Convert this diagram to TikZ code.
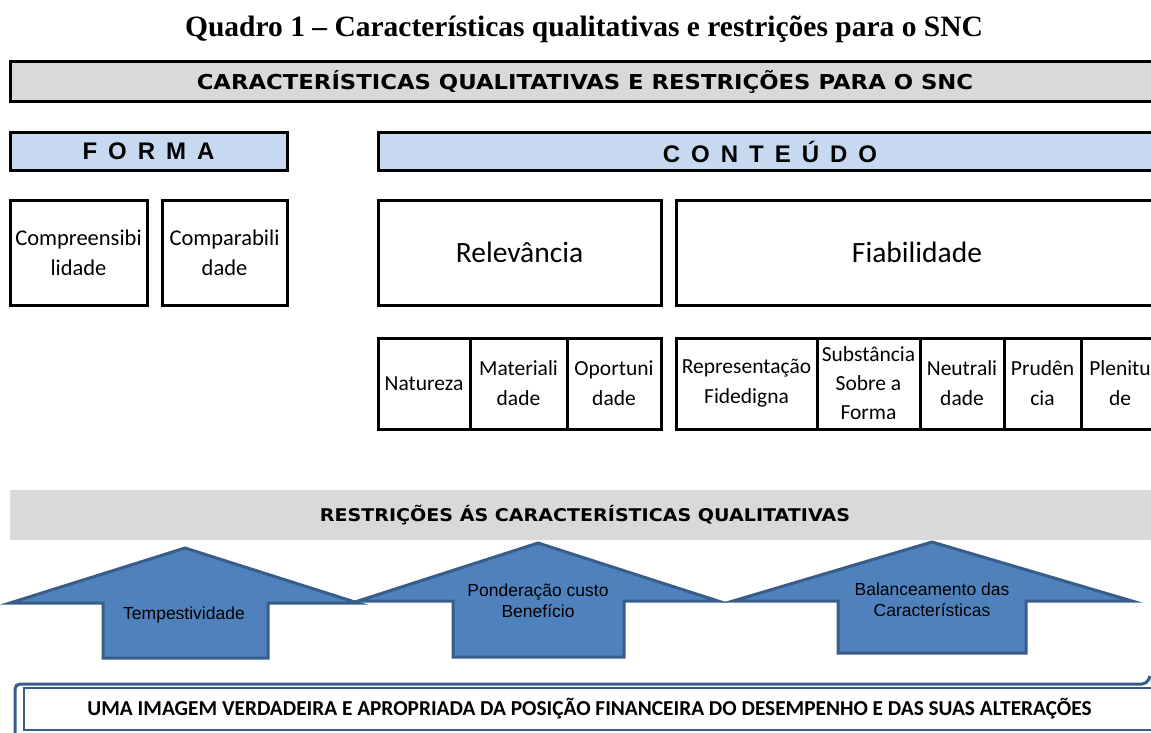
\documentclass[tikz,border=0pt]{standalone}
\usepackage{fontspec}
\setmainfont{Liberation Serif}
\newfontfamily\calibri{Carlito}
\newfontfamily\arial{Liberation Sans}
\newfontfamily\arialheavy{DejaVu Sans}
\newcommand\espacado{\spaceskip 11pt\relax}
\usepackage{tikz}
\usetikzlibrary{positioning}
\definecolor{cinzento}{RGB}{217,217,217}
\definecolor{azulclaro}{RGB}{198,217,241}
\definecolor{azulseta}{RGB}{79,129,189}
\definecolor{azulborda}{RGB}{56,93,138}
\tikzset{
	caixa/.style={draw, line width=3pt, outer sep=0pt, inner sep=1pt, anchor=north west, align=center},
	celula/.style={caixa, minimum height=91pt, font=\calibri\fontsize{21.5}{30}\selectfont},
	grande/.style={caixa, minimum height=105pt, font=\calibri\fontsize{22.5}{30}\selectfont},
	titulo/.style={caixa, fill=azulclaro, minimum height=37pt,
			font=\arial\bfseries\fontsize{24}{24}\selectfont\espacado},
	seta/.style={draw=azulborda, fill=azulseta, line width=3pt, line join=miter},
	rotulo/.style={font=\arial\fontsize{17.5}{21}\selectfont, align=center}
}

\begin{document}
\begin{tikzpicture}[x=1pt, y=-1pt]
	\useasboundingbox (0,0) rectangle (1151,733);
	\clip (0,0) rectangle (1151,733);

	\node[font=\bfseries\fontsize{29.5}{29.5}\selectfont] (quadro) at (584,29)
	{Quadro 1 – Características qualitativas e restrições para o SNC};

	\node[caixa, fill=cinzento, minimum width=1150pt, minimum height=40pt,
		font=\arialheavy\bfseries\fontsize{20.5}{20.5}\selectfont] (snc) at (10,62)
	{\scalebox{1.11}[1]{CARACTERÍSTICAS QUALITATIVAS E RESTRIÇÕES PARA O SNC}};

	% forma e conteudo
	\node[titulo, minimum width=277pt] (forma) at (10,133) {F O R M A};
	\node[titulo, minimum width=784pt] (conteudo) at (378,133) {C O N T E Ú D O};

	\node[grande, minimum width=137pt] (compreens) at (10,200) {Compreensibi\\lidade};
	\node[grande, minimum width=125pt] (comparab) at (162,200) {Comparabili\\dade};
	\node[grande, minimum width=283pt, font=\calibri\fontsize{29.5}{30}\selectfont] (relevancia) at (378,200) {Relevância};
	\node[grande, minimum width=482pt, font=\calibri\fontsize{29.5}{30}\selectfont] (fiabilidade) at (676,200) {Fiabilidade};

	\node[celula, minimum width=92pt] (natureza) at (378,338) {Natureza};
	\node[celula, minimum width=97pt] (materialidade) at (470,338) {Materiali\\dade};
	\node[celula, minimum width=94pt] (oportunidade) at (567,338) {Oportuni\\dade};
	\node[celula, minimum width=141pt] (representacao) at (676,338) {Representação\\Fidedigna};
	\node[celula, minimum width=103pt, font=\calibri\fontsize{21.5}{29}\selectfont] (substancia) at (817,338) {Substância\\Sobre a\\Forma};
	\node[celula, minimum width=84pt] (neutralidade) at (920,338) {Neutrali\\dade};
	\node[celula, minimum width=77pt] (prudencia) at (1004,338) {Prudên\\cia};
	\node[celula, minimum width=78pt] (plenitude) at (1081,338) {Plenitu\\de};

	% restricoes
	\node[caixa, draw=none, fill=cinzento, minimum width=1150pt, minimum height=50pt,
		font=\arialheavy\bfseries\fontsize{17.5}{17.5}\selectfont] (restricoes) at (10,490)
	{\scalebox{1.09}[1]{RESTRIÇÕES ÁS CARACTERÍSTICAS QUALITATIVAS}};

	\draw[seta] (103,658) -- (103,603) -- (10,603) -- (185,548) -- (358,603) -- (268,603) -- (268,658) -- cycle;
	\draw[seta] (453,657) -- (453,601) -- (358,601) -- (538,543) -- (718,601) -- (624,601) -- (624,657) -- cycle;
	\draw[seta] (838,653) -- (838,601) -- (733,601) -- (932,542) -- (1132,601) -- (1026,601) -- (1026,653) -- cycle;

	\node[rotulo] (tempestividade) at (184,615) {Tempestividade};
	\node[rotulo] (ponderacao) at (538,601) {Ponderação custo\\Benefício};
	\node[rotulo] (balanceamento) at (932,600) {Balanceamento das\\Características};

	% imagem verdadeira
	\draw[azulborda, line width=3pt, rounded corners=5pt] (15,745) -- (15,684) -- (1147,684) -- (1150,676);
	\node[anchor=north west, draw=azulborda, fill=white, line width=1.2pt, outer sep=0pt,
		minimum width=1131pt, minimum height=42pt, font=\calibri\bfseries\fontsize{21.3}{21.3}\selectfont] (imagem) at (24,688)
	{UMA IMAGEM VERDADEIRA E APROPRIADA DA POSIÇÃO FINANCEIRA DO DESEMPENHO E DAS SUAS ALTERAÇÕES};
\end{tikzpicture}
\end{document}
